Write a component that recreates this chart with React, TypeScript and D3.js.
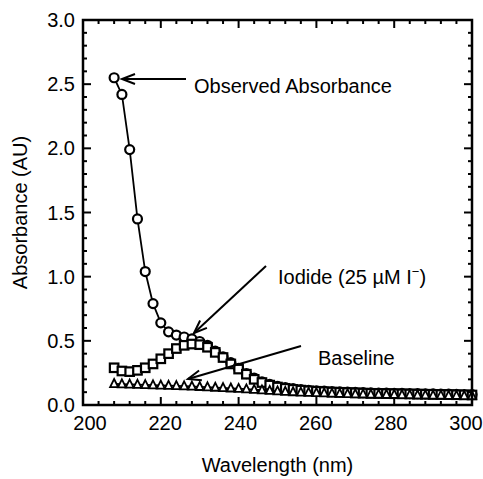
import React from "react";
import * as d3 from "d3";

const wavelengths: number[] = [
  208, 210, 212, 214, 216, 218, 220, 222, 224, 226, 228, 230, 232, 234, 236, 238, 240,
  242, 244, 246, 248, 250, 252, 254, 256, 258, 260, 262, 264, 266, 268, 270, 272, 274,
  276, 278, 280, 282, 284, 286, 288, 290, 292, 294, 296, 298, 300,
];

const observed: number[] = [
  2.55, 2.42, 1.99, 1.45, 1.04, 0.79, 0.64, 0.57, 0.545, 0.53, 0.515, 0.495, 0.465, 0.42,
  0.375, 0.33, 0.285, 0.245, 0.21, 0.18, 0.16, 0.145, 0.135, 0.127, 0.12, 0.115, 0.111,
  0.108, 0.105, 0.102, 0.1, 0.098, 0.096, 0.094, 0.093, 0.092, 0.091, 0.09, 0.089, 0.088,
  0.087, 0.086, 0.085, 0.084, 0.083, 0.082, 0.081,
];

const iodide: number[] = [
  0.29, 0.265, 0.26, 0.27, 0.29, 0.32, 0.36, 0.4, 0.44, 0.465, 0.475, 0.47, 0.45, 0.41,
  0.37, 0.32, 0.28, 0.24, 0.2, 0.175, 0.155, 0.14, 0.13, 0.122, 0.116, 0.111, 0.107,
  0.104, 0.101, 0.099, 0.097, 0.095, 0.093, 0.091, 0.09, 0.089, 0.088, 0.087, 0.086,
  0.085, 0.084, 0.083, 0.082, 0.081, 0.08, 0.079, 0.078,
];

const baseline: number[] = [
  0.165, 0.163, 0.161, 0.159, 0.157, 0.155, 0.153, 0.151, 0.149, 0.147, 0.145, 0.142,
  0.139, 0.136, 0.133, 0.13, 0.127, 0.123, 0.119, 0.115, 0.111, 0.107, 0.104, 0.101,
  0.098, 0.096, 0.094, 0.092, 0.09, 0.088, 0.086, 0.085, 0.084, 0.083, 0.082, 0.081, 0.08,
  0.079, 0.078, 0.077, 0.076, 0.075, 0.074, 0.073, 0.072, 0.071, 0.07,
];

const xTicks: number[] = [200, 220, 240, 260, 280, 300];
const yTicks: number[] = [0, 0.5, 1.0, 1.5, 2.0, 2.5, 3.0];

const W = 483;
const H = 479;
const L = 83;
const R = 472;
const T = 20;
const B = 405;
const FONT = "'Liberation Sans', Arial, Helvetica, sans-serif";

export default function App() {
  const x = d3.scaleLinear().domain([200, 300]).range([L, R]);
  const xLabel = d3.scaleLinear().domain([200, 300]).range([90, 466]);
  const y = d3.scaleLinear().domain([0, 3]).range([B, T]);

  const xMinor = d3.range(200, 300.01, 4);
  const yMinor = d3.range(0, 3.001, 0.1);

  const mk = (vals: number[]) =>
    d3
      .line<number>()
      .x((_, i) => x(wavelengths[i]))
      .y((v) => y(v))(vals) as string;

  const tri = (cx: number, cy: number, s: number) =>
    `M${cx},${cy - s * 0.6}L${cx + s / 2},${cy + s * 0.4}L${cx - s / 2},${cy + s * 0.4}Z`;

  const arrowHead = (x1: number, y1: number, x2: number, y2: number, len: number, half: number) => {
    const a = Math.atan2(y2 - y1, x2 - x1);
    const bx = x2 - len * Math.cos(a);
    const by = y2 - len * Math.sin(a);
    const px = -Math.sin(a) * half;
    const py = Math.cos(a) * half;
    return `M${bx + px},${by + py}L${x2},${y2}L${bx - px},${by - py}`;
  };

  const arrows = [
    { x1: 186, y1: 79, x2: 122, y2: 79 },
    { x1: 266, y1: 266, x2: 194, y2: 333 },
    { x1: 301, y1: 346, x2: 188, y2: 379 },
  ];

  return (
    <svg
      width={W}
      height={H}
      style={{ position: "absolute", left: 0, top: 0, background: "#fff" }}
      fontFamily={FONT}
    >
      <rect x={0} y={0} width={W} height={H} fill="#fff" />
      {/* data lines */}
      <path d={mk(baseline)} fill="none" stroke="#000" strokeWidth={1.8} />
      <path d={mk(iodide)} fill="none" stroke="#000" strokeWidth={1.8} />
      <path d={mk(observed)} fill="none" stroke="#000" strokeWidth={1.8} />
      {/* markers */}
      {observed.map((v, i) => (
        <circle key={"o" + i} cx={x(wavelengths[i])} cy={y(v)} r={4.5} fill="#fff" stroke="#000" strokeWidth={2.2} />
      ))}
      {iodide.map((v, i) => (
        <rect key={"s" + i} x={x(wavelengths[i]) - 4.25} y={y(v) - 4.25} width={8.5} height={8.5} fill="#fff" stroke="#000" strokeWidth={2.2} />
      ))}
      {baseline.map((v, i) => (
        <path key={"t" + i} d={tri(x(wavelengths[i]), y(v), 8)} fill="#fff" stroke="#000" strokeWidth={1.8} />
      ))}
      {/* frame */}
      <rect x={L} y={T} width={R - L} height={B - T} fill="none" stroke="#000" strokeWidth={2.5} />
      {/* ticks */}
      {xMinor.map((v) => {
        const major = Math.abs(v % 20) < 1e-6;
        const len = major ? 8 : 4;
        return (
          <g key={"xt" + v}>
            <line x1={x(v)} x2={x(v)} y1={B} y2={B - len} stroke="#000" strokeWidth={2} />
            <line x1={x(v)} x2={x(v)} y1={T} y2={T + len} stroke="#000" strokeWidth={2} />
          </g>
        );
      })}
      {yMinor.map((v, i) => {
        const major = i % 5 === 0;
        const len = major ? 8 : 4;
        return (
          <g key={"yt" + i}>
            <line x1={L} x2={L + len} y1={y(v)} y2={y(v)} stroke="#000" strokeWidth={2} />
            <line x1={R} x2={R - len} y1={y(v)} y2={y(v)} stroke="#000" strokeWidth={2} />
          </g>
        );
      })}
      {/* tick labels */}
      {xTicks.map((v) => (
        <text key={"xl" + v} x={xLabel(v)} y={430} textAnchor="middle" fontSize={20} fill="#000">
          {v}
        </text>
      ))}
      {yTicks.map((v) => (
        <text key={"yl" + v} x={75} y={y(v) + 7} textAnchor="end" fontSize={20} fill="#000">
          {v.toFixed(1)}
        </text>
      ))}
      {/* axis titles */}
      <text x={(L + R) / 2} y={472} textAnchor="middle" fontSize={20} fill="#000">
        Wavelength (nm)
      </text>
      <text
        transform={`translate(27,${(T + B) / 2}) rotate(-90)`}
        textAnchor="middle"
        fontSize={20}
        fill="#000"
      >
        Absorbance (AU)
      </text>
      {/* annotations */}
      {arrows.map((a, i) => (
        <g key={"ar" + i}>
          <line x1={a.x1} y1={a.y1} x2={a.x2} y2={a.y2} stroke="#000" strokeWidth={2} />
          <path d={arrowHead(a.x1, a.y1, a.x2, a.y2, 13, 5)} fill="none" stroke="#000" strokeWidth={2} />
        </g>
      ))}
      <text x={194} y={93} fontSize={20} fill="#000">
        Observed Absorbance
      </text>
      <text x={278} y={284} fontSize={20} fill="#000">
        Iodide (25 µM I<tspan dy={-8} fontSize={13}>−</tspan>
        <tspan dy={8}>)</tspan>
      </text>
      <text x={318} y={365} fontSize={20} fill="#000">
        Baseline
      </text>
    </svg>
  );
}
